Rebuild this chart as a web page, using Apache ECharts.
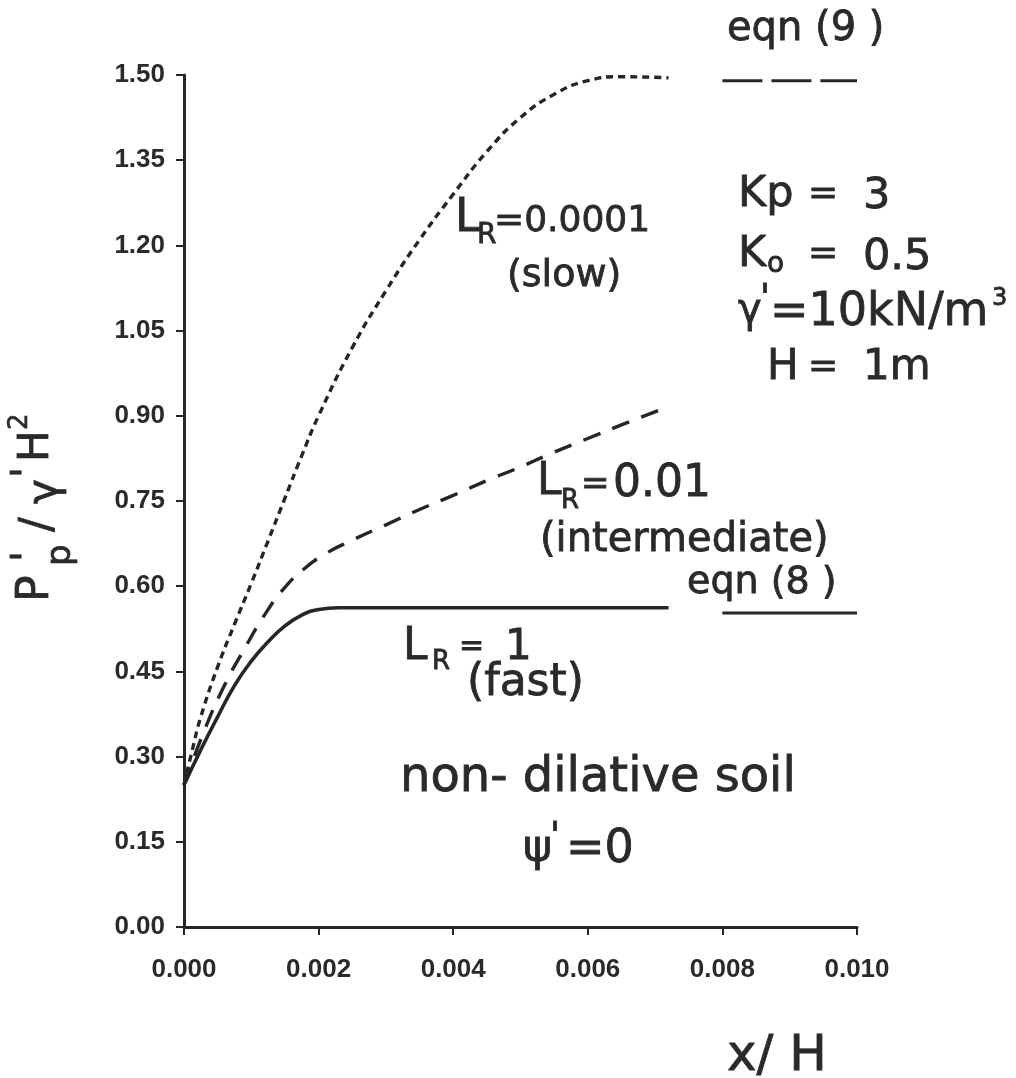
<!DOCTYPE html>
<html>
<head>
<meta charset="utf-8">
<script src="https://cdn.jsdelivr.net/npm/echarts@6/dist/echarts.min.js"></script>
<style>
html,body{margin:0;padding:0;background:#fff;}
#chart{width:1016px;height:1078px;}
</style>
</head>
<body>
<div id="chart"></div>
<script>
// ---- data ----
const xTicks = [0, 0.002, 0.004, 0.006, 0.008, 0.010];
const yTicks = [0, 0.15, 0.30, 0.45, 0.60, 0.75, 0.90, 1.05, 1.20, 1.35, 1.50];

// L_R = 0.0001 (slow) - dotted
const slowX = [0, 0.00012, 0.00025, 0.0005, 0.00075, 0.001, 0.00125, 0.0015, 0.00175, 0.002, 0.0025, 0.003, 0.0035, 0.004, 0.0045, 0.005, 0.0055, 0.006, 0.0065, 0.0072];
const slowY = [0.25, 0.31, 0.37, 0.458, 0.533, 0.605, 0.68, 0.755, 0.83, 0.9, 1.02, 1.12, 1.21, 1.29, 1.365, 1.425, 1.466, 1.49, 1.497, 1.495];

// L_R = 0.01 (intermediate) - dashed
const interX = [0, 0.0003, 0.0006, 0.0009, 0.0012, 0.0015, 0.0018, 0.0021, 0.0025, 0.003, 0.0035, 0.004, 0.0045, 0.005, 0.0055, 0.006, 0.0065, 0.0072];
const interY = [0.25, 0.345, 0.425, 0.49, 0.55, 0.598, 0.632, 0.657, 0.681, 0.708, 0.735, 0.76, 0.786, 0.81, 0.836, 0.86, 0.884, 0.916];

// L_R = 1 (fast) - solid
const fastX = [0, 0.00025, 0.0005, 0.00075, 0.001, 0.00125, 0.0015, 0.00175, 0.002, 0.0023, 0.0072];
const fastY = [0.25, 0.312, 0.37, 0.425, 0.468, 0.502, 0.53, 0.549, 0.559, 0.562, 0.562];

// eqn (9) and eqn (8) reference segments
const eqn9X = [0.008, 0.010];
const eqn9Y = [1.49, 1.49];
const eqn8X = [0.008, 0.010];
const eqn8Y = [0.553, 0.553];

const pairs = (xs, ys) => xs.map((x, i) => [x, ys[i]]);

// ---- styling ----
const INK = '#262626';
const TXT = '#2a2a2a';
const FONT = '"DejaVu Sans", "Liberation Sans", sans-serif';
const TICKFONT = '"Liberation Sans", "DejaVu Sans", sans-serif';

function t(x, y, s, size, extra) {
  return {
    type: 'text', x: x, y: y, silent: true,
    style: Object.assign({
      text: s, fontSize: size, fontFamily: FONT, fill: TXT,
      stroke: TXT, lineWidth: 0.8,
      align: 'left', verticalAlign: 'middle'
    }, extra || {})
  };
}

const chart = echarts.init(document.getElementById('chart'), null, {renderer: 'canvas'});

const gridL = 184, gridT = 75, gridW = 673, gridH = 852;

const baseX = {
  type: 'value', min: 0, max: 0.010, interval: 0.002,
  gridIndex: 0,
  splitLine: {show: false}
};
const baseY = {
  type: 'value', min: 0, max: 1.5, interval: 0.15,
  gridIndex: 0,
  splitLine: {show: false}
};

const option = {
  backgroundColor: '#ffffff',
  animation: false,
  grid: {left: gridL, top: gridT, width: gridW, height: gridH, containLabel: false},
  xAxis: [
    Object.assign({}, baseX, {
      axisLine: {show: true, lineStyle: {color: INK, width: 3}},
      axisTick: {show: true, inside: false, length: 8, lineStyle: {color: INK, width: 2}},
      axisLabel: {
        show: true, margin: 30, color: TXT, fontFamily: TICKFONT, fontWeight: 'bold', fontSize: 26,
        formatter: v => v.toFixed(3)
      }
    }),
    Object.assign({}, baseX, {
      axisLine: {show: false},
      axisTick: {show: true, inside: true, length: 8, lineStyle: {color: INK, width: 2}},
      axisLabel: {show: false}
    })
  ],
  yAxis: [
    Object.assign({}, baseY, {
      axisLine: {show: true, lineStyle: {color: INK, width: 3}},
      axisTick: {show: true, inside: false, length: 8, lineStyle: {color: INK, width: 2}},
      axisLabel: {
        show: true, margin: 19, color: TXT, fontFamily: TICKFONT, fontWeight: 'bold', fontSize: 26,
        formatter: v => v.toFixed(2)
      }
    }),
    Object.assign({}, baseY, {
      axisLine: {show: false},
      axisTick: {show: true, inside: true, length: 8, lineStyle: {color: INK, width: 2}},
      axisLabel: {show: false}
    })
  ],
  series: [
    {
      name: 'LR=0.0001', type: 'line', data: pairs(slowX, slowY),
      showSymbol: false, smooth: 0.5,
      lineStyle: {color: INK, width: 3.4, type: [7, 5]}
    },
    {
      name: 'LR=0.01', type: 'line', data: pairs(interX, interY),
      showSymbol: false, smooth: 0.5,
      lineStyle: {color: INK, width: 3.4, type: [18, 13]}
    },
    {
      name: 'LR=1', type: 'line', data: pairs(fastX, fastY),
      showSymbol: false, smooth: 0.5,
      lineStyle: {color: INK, width: 3.6, type: 'solid'}
    },
    {
      name: 'eqn (9)', type: 'line', data: pairs(eqn9X, eqn9Y),
      showSymbol: false,
      lineStyle: {color: INK, width: 3, type: [40, 9]}
    },
    {
      name: 'eqn (8)', type: 'line', data: pairs(eqn8X, eqn8Y),
      showSymbol: false,
      lineStyle: {color: INK, width: 3, type: 'solid'}
    }
  ],
  graphic: [
    // y-axis title, rotated
    {
      type: 'group', x: 52, y: 602, rotation: Math.PI / 2, silent: true,
      children: [
        {type: 'text', x: 0, y: -15, style: {text: 'P', fontSize: 44, fontFamily: FONT, fill: TXT, stroke: TXT, lineWidth: 0.8, verticalAlign: 'middle'}},
        {type: 'text', x: 40, y: -22, style: {text: "'", fontSize: 40, fontFamily: FONT, fill: TXT, stroke: TXT, lineWidth: 0.8, verticalAlign: 'middle'}},
        {type: 'text', x: 36, y: 9, style: {text: 'p', fontSize: 34, fontFamily: FONT, fill: TXT, stroke: TXT, lineWidth: 0.8, verticalAlign: 'middle'}},
        {type: 'text', x: 70, y: -12, style: {text: '/', fontSize: 44, fontFamily: FONT, fill: TXT, stroke: TXT, lineWidth: 0.8, verticalAlign: 'middle'}},
        {type: 'text', x: 98, y: -6, style: {text: '\u03b3', fontSize: 42, fontFamily: FONT, fill: TXT, stroke: TXT, lineWidth: 0.8, verticalAlign: 'middle'}},
        {type: 'text', x: 124, y: -22, style: {text: "'", fontSize: 40, fontFamily: FONT, fill: TXT, stroke: TXT, lineWidth: 0.8, verticalAlign: 'middle'}},
        {type: 'text', x: 140, y: -15, style: {text: 'H', fontSize: 42, fontFamily: FONT, fill: TXT, stroke: TXT, lineWidth: 0.8, verticalAlign: 'middle'}},
        {type: 'text', x: 172, y: -32, style: {text: '2', fontSize: 26, fontFamily: FONT, fill: TXT, stroke: TXT, lineWidth: 0.6, verticalAlign: 'middle'}}
      ]
    },
    // x-axis title
    t(727, 1057, 'x/ H', 50),

    // eqn (9)
    t(727, 30, 'eqn (9 )', 40),

    // L_R = 0.0001 (slow)
    t(455, 219, 'L', 46),
    t(477, 236, 'R', 28),
    t(494, 222, '=0.0001', 36),
    t(507, 276, '(slow)', 38),

    // parameter block
    t(738, 195, 'Kp', 43),
    t(823, 195, '=', 36, {align: 'center'}),
    t(863, 197, '3', 43),

    t(738, 255, 'K', 43),
    t(767, 265, 'o', 28),
    t(823, 255, '=', 36, {align: 'center'}),
    t(863, 258, '0.5', 43),

    t(738, 312, '\u03b3', 40),
    t(760, 300, "'", 36),
    t(770, 313, '=10kN/m', 46),
    t(992, 299, '3', 24),

    t(767, 368, 'H', 42),
    t(823, 368, '=', 36, {align: 'center'}),
    t(863, 368, '1m', 42),

    // L_R = 0.01 (intermediate)
    t(537, 483, 'L', 44),
    t(561, 501, 'R', 26),
    t(581, 485, '=', 34),
    t(613, 485, '0.01', 44),
    t(540, 541, '(intermediate)', 40),

    // eqn (8)
    t(687, 583, 'eqn (8 )', 38),

    // L_R = 1 (fast)
    t(403, 648, 'L', 44),
    t(432, 662, 'R', 26),
    t(459, 647, '=', 30),
    t(505, 648, '1', 42),
    t(467, 684, '(fast)', 44),

    // soil note
    t(400, 779, 'non- dilative soil', 48),
    t(523, 850, '\u03c8', 44),
    t(550, 838, "'", 36),
    t(566, 850, '=0', 46)
  ]
};

chart.setOption(option);
</script>
</body>
</html>
